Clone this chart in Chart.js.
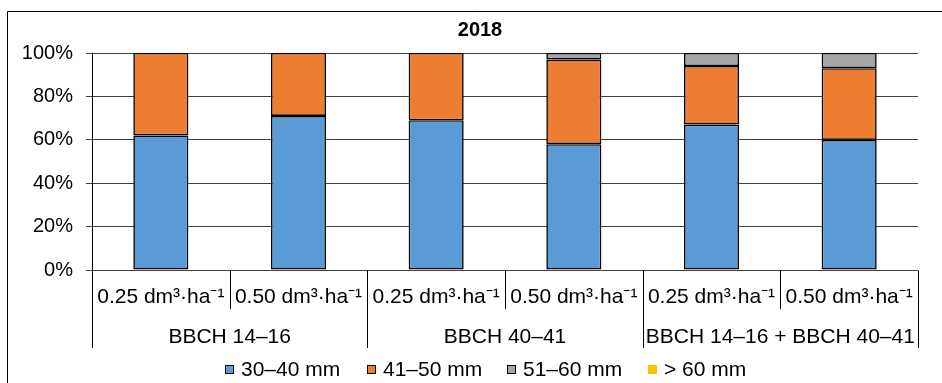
<!DOCTYPE html>
<html>
<head>
<meta charset="utf-8">
<script src="https://cdn.jsdelivr.net/npm/chart.js@4"></script>
<style>
  html, body { margin: 0; padding: 0; background: #fff; }
  #wrap { width: 942px; height: 383px; position: relative; }
</style>
</head>
<body>
<div id="wrap"><canvas id="c" width="942" height="383"></canvas></div>
<script>
// Tuber size fractions (%) per treatment, 2018
const titleText = '2018';
const doseLabels = ['0.25 dm³·ha⁻¹', '0.50 dm³·ha⁻¹', '0.25 dm³·ha⁻¹', '0.50 dm³·ha⁻¹', '0.25 dm³·ha⁻¹', '0.50 dm³·ha⁻¹'];
const stageLabels = ['BBCH 14–16', 'BBCH 40–41', 'BBCH 14–16 + BBCH 40–41'];
const seriesNames = ['30–40 mm', '41–50 mm', '51–60 mm', '> 60 mm'];
const size30to40 = [62, 71, 69, 58, 67, 60];
const size41to50 = [38, 29, 31, 39, 27, 33];
const size51to60 = [0, 0, 0, 3, 6, 7];
const sizeOver60 = [0, 0, 0, 0, 0, 0];
const yTicks = [0, 20, 40, 60, 80, 100];

const colors = ['#5B9BD5', '#ED7D31', '#A5A5A5', '#FFC000'];
const FONT = '"Liberation Sans", Arial, sans-serif';

const seriesValues = [size30to40, size41to50, size51to60, sizeOver60];
const datasets = seriesNames.map((name, i) => ({
  label: name,
  data: seriesValues[i],
  backgroundColor: colors[i],
  borderColor: '#000',
  borderWidth: i === 3 ? 0 : 1.6,
  borderSkipped: false,
  categoryPercentage: 1,
  barPercentage: 0.4
}));

// Frame, two-level category axis, title and legend
const decor = {
  id: 'decor',
  afterDraw(chart) {
    const ctx = chart.ctx;
    const x = chart.scales.x;
    const area = chart.chartArea;
    const n = doseLabels.length;
    const step = (area.right - area.left) / n;
    ctx.save();

    // outer frame
    ctx.strokeStyle = '#000';
    ctx.lineWidth = 1;
    ctx.beginPath();
    ctx.moveTo(7.5, 400);
    ctx.lineTo(7.5, 11.5);
    ctx.lineTo(960, 11.5);
    ctx.stroke();

    // vertical axis line and category dividers
    const base = Math.round(area.bottom) + 0.5;
    ctx.strokeStyle = '#000';
    ctx.lineWidth = 1;
    ctx.beginPath();
    for (let i = 0; i <= n; i++) {
      const px = Math.round(i === n ? area.right : x.getPixelForValue(i) - step / 2) + 0.5;
      const bottom = (i % 2 === 0) ? 348 : 309;
      if (i === 0) { ctx.moveTo(px, area.top - 0.5); ctx.lineTo(px, bottom); }
      else { ctx.moveTo(px, base); ctx.lineTo(px, bottom); }
    }
    ctx.stroke();

    // category labels
    ctx.fillStyle = '#000';
    ctx.textAlign = 'center';
    ctx.textBaseline = 'alphabetic';
    ctx.font = '21px ' + FONT;
    doseLabels.forEach((t, i) => ctx.fillText(t, x.getPixelForValue(i), 303));
    stageLabels.forEach((t, g) => {
      const cx = (x.getPixelForValue(g * 2) + x.getPixelForValue(g * 2 + 1)) / 2;
      ctx.fillText(t, cx, 343);
    });

    // title
    ctx.font = 'bold 20px ' + FONT;
    ctx.fillText(titleText, 480, 36);

    // legend
    ctx.font = '21px ' + FONT;
    ctx.textAlign = 'left';
    const boxStarts = [225, 367, 507, 648];
    chart.data.datasets.forEach((ds, i) => {
      const bx = boxStarts[i];
      ctx.fillStyle = ds.backgroundColor;
      ctx.fillRect(bx, 365, 9, 9);
      if (ds.borderWidth > 0) {
        ctx.strokeStyle = '#000';
        ctx.lineWidth = 1;
        ctx.strokeRect(bx + 0.5, 365.5, 8, 8);
      }
      ctx.fillStyle = '#000';
      ctx.fillText(ds.label, bx + 16, 376);
    });
    ctx.restore();
  }
};

new Chart(document.getElementById('c'), {
  type: 'bar',
  data: { labels: doseLabels, datasets },
  options: {
    responsive: false,
    animation: false,
    layout: { padding: { left: 0, top: 53, right: 24, bottom: 113 } },
    plugins: { legend: { display: false }, title: { display: false }, tooltip: { enabled: false } },
    scales: {
      x: { stacked: true, display: false },
      y: {
        stacked: true,
        min: 0,
        max: 100,
        afterFit(scale) { scale.width = 92; },
        afterBuildTicks(scale) { scale.ticks = yTicks.map(v => ({ value: v })); },
        border: { display: false },
        grid: { color: '#404040', lineWidth: 1, tickLength: 6, drawTicks: true },
        ticks: {
          padding: 13,
          color: '#000',
          font: { family: FONT, size: 20 },
          callback: v => v + '%'
        }
      }
    }
  },
  plugins: [decor]
});
</script>
</body>
</html>
